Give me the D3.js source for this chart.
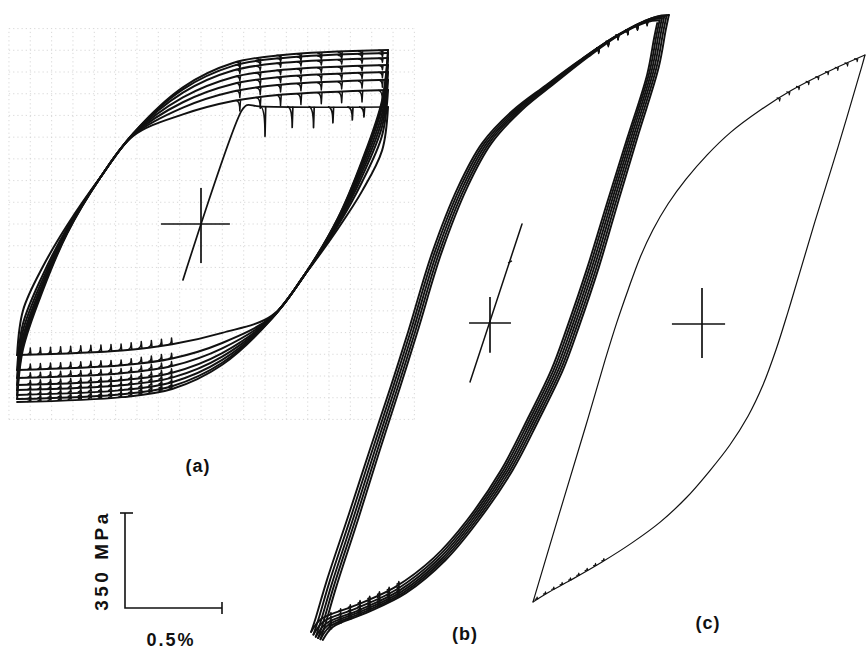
<!DOCTYPE html>
<html>
<head>
<meta charset="utf-8">
<script src="https://cdn.jsdelivr.net/npm/d3@7"></script>
<style>
  html, body { margin: 0; padding: 0; background: #fff; }
  svg { display: block; }
  text { font-family: "Liberation Sans", Arial, Helvetica, sans-serif; font-weight: bold; fill: #111; }
</style>
</head>
<body>
<svg id="chart" width="866" height="651"></svg>
<script>
// ------------------------------------------------------------------
// Data: stress-strain hysteresis loops (strain in %, stress in MPa)
// ------------------------------------------------------------------
const panelLabels = ["(a)", "(b)", "(c)"];
const barStress = 350;            // MPa
const barStrain = 0.5;            // %
const barLabels = ["350 MPa", "0.5%"];

// (a) outermost loop, rising branch, as fractions of strain range / stress range
const aShapeU = [0, 0.016, 0.070, 0.135, 0.224, 0.313, 0.447, 0.582, 0.717, 1];
const aShapeV = [0, 0.143, 0.314, 0.477, 0.637, 0.763, 0.894, 0.963, 0.986, 1];
const aStrainLimits = [-0.948, 0.964];
const aPeaks   = [431, 494, 531, 560, 586, 612, 630, 641];          // tension plateaus
const aValleys = [-483, -538, -567, -593, -612, -630, -645, -656];  // compression plateaus
const aDropT = [0, 40, 26, 20, 17, 15, 13, 12];    // serration depth, tension (MPa)
const aDropC = [24, 20, 17, 15, 14, 13, 12, 11];   // serration depth, compression (MPa)
// first loading: elastic line, then serrated yield plateau
const aFirstStrain = [-0.093, 0.21, 0.237, 0.30, 0.964];
const aFirstStress = [-206, 418, 438, 433, 431];
const aFirstDropStrain = [0.33, 0.47, 0.58, 0.68, 0.78, 0.84];
const aFirstDropDepth  = [110, 77, 77, 59, 48, 37];
// graph-paper rulings under (a)
const aGridStrain = [-0.99, -0.88, -0.77, -0.66, -0.55, -0.44, -0.33, -0.22, -0.11, 0,
                     0.11, 0.22, 0.33, 0.44, 0.55, 0.66, 0.77, 0.88, 0.99, 1.10];
const aGridStress = [-720, -640, -560, -480, -400, -320, -240, -160, -80, 0,
                     80, 160, 240, 320, 400, 480, 560, 640, 720];
const aCross = { strain: [-0.206, 0.149], stress: [-144, 133] };

// (b) outermost loop branches (fractions), cycle tips
const bRiseU = [0, 0.014, 0.046, 0.108, 0.168, 0.229, 0.280, 0.347, 0.422, 0.491, 0.578, 0.673, 0.769, 0.867, 0.962, 1];
const bRiseV = [0, 0.024, 0.085, 0.192, 0.299, 0.405, 0.496, 0.619, 0.725, 0.795, 0.848, 0.891, 0.933, 0.971, 0.997, 1];
const bFallU = [1, 0.991, 0.971, 0.913, 0.855, 0.798, 0.740, 0.694, 0.624, 0.549, 0.451, 0.355, 0.240, 0.124, 0.029, 0];
const bFallV = [1, 0.976, 0.917, 0.811, 0.704, 0.597, 0.501, 0.432, 0.352, 0.272, 0.192, 0.128, 0.075, 0.043, 0.021, 0];
const bStrainLo = [-0.922, -0.910, -0.898, -0.886, -0.874, -0.862];
const bStrainHi = [0.862, 0.874, 0.886, 0.898, 0.910, 0.922];
const bPeaks   = [1105, 1115, 1122, 1128, 1132, 1135];
const bValleys = [-1138, -1148, -1156, -1161, -1165, -1168];
const bFirstStrain = [-0.103, 0.165];
const bFirstStress = [-217, 365];
const bNick = [0.093, 221];
const bCross = { strain: [-0.108, 0.108], stress: [-110, 96] };

// (c) single loop
const cRiseU = [0, 0.081, 0.157, 0.217, 0.253, 0.286, 0.322, 0.361, 0.407, 0.461, 0.524, 0.596, 0.684, 0.780, 0.886, 1];
const cRiseV = [0, 0.165, 0.318, 0.442, 0.512, 0.570, 0.629, 0.680, 0.728, 0.773, 0.817, 0.859, 0.899, 0.936, 0.969, 1];
const cFallU = [1, 0.991, 0.919, 0.849, 0.804, 0.768, 0.732, 0.693, 0.648, 0.593, 0.530, 0.461, 0.383, 0.298, 0.208, 0.114, 0.042, 0];
const cFallV = [1, 0.980, 0.832, 0.695, 0.603, 0.530, 0.461, 0.397, 0.340, 0.287, 0.238, 0.190, 0.146, 0.108, 0.073, 0.040, 0.016, 0];
const cStrainLimits = [-0.871, 0.840];
const cStressLimits = [-1024, 991];
const cCross = { strain: [-0.155, 0.119], stress: [-125, 133] };

// ------------------------------------------------------------------
// Layout
// ------------------------------------------------------------------
const pxPerStrain = 194;          // px per 1 % strain
const pxPerStress = 95 / 350;     // px per MPa
const origins = { a: [201, 224], b: [490, 323], c: [702, 324] };

const svg = d3.select("#chart");

function scalesAt(o) {
  return {
    x: d3.scaleLinear().domain([0, 1]).range([o[0], o[0] + pxPerStrain]),
    y: d3.scaleLinear().domain([0, 1000]).range([o[1], o[1] - 1000 * pxPerStress])
  };
}

function smoothStep(p, p0, p1) {
  const t = Math.max(0, Math.min(1, (p - p0) / (p1 - p0)));
  return t * t * (3 - 2 * t);
}

// One branch of a cycle: the outer-loop shape, with its start plateau moved to
// sStart (fading out along the branch) and its end plateau moved to sEnd.
function branch(U, V, oLo, oHi, eLo, eHi, sStart, sEnd, rising, fade) {
  return U.map((u, i) => {
    const q = rising ? V[i] : 1 - V[i];
    const wS = 1 - smoothStep(q, 0, fade[0]);
    const wE = smoothStep(q, fade[1], 1);
    const base = oLo + V[i] * (oHi - oLo);
    const shift = rising
      ? (sStart - oLo) * wS + (sEnd - oHi) * wE
      : (sStart - oHi) * wS + (sEnd - oLo) * wE;
    return [eLo + u * (eHi - eLo), base + shift];
  });
}

function panelTools(g, sc, width) {
  const line = d3.line().x(d => sc.x(d[0])).y(d => sc.y(d[1])).curve(d3.curveCatmullRom.alpha(0.5));
  return {
    path(points, w) {
      g.append("path").attr("d", line(points)).attr("fill", "none")
        .attr("stroke", "#111").attr("stroke-width", w || width)
        .attr("stroke-linejoin", "round").attr("stroke-linecap", "round");
    },
    // serration teeth on a plateau (depth > 0 drops the stress)
    teeth(points, strains, depths, hook, w) {
      const sorted = points.slice().sort((p, q) => p[0] - q[0]);
      const at = d3.scaleLinear().domain(sorted.map(d => d[0])).range(sorted.map(d => d[1]));
      strains.forEach((e, i) => {
        const d = Array.isArray(depths) ? depths[i] : depths;
        const x = sc.x(e), y = sc.y(at(e)), y2 = sc.y(at(e) - d);
        g.append("path")
          .attr("d", `M${x - hook},${y} Q${x},${y} ${x},${y2} L${x + 0.7},${y}`)
          .attr("fill", "none").attr("stroke", "#111").attr("stroke-width", w || width)
          .attr("stroke-linejoin", "round");
      });
    },
    cross(c) {
      g.append("line").attr("x1", sc.x(c.strain[0])).attr("x2", sc.x(c.strain[1]))
        .attr("y1", sc.y(0)).attr("y2", sc.y(0)).attr("stroke", "#111").attr("stroke-width", 1.7);
      g.append("line").attr("x1", sc.x(0)).attr("x2", sc.x(0))
        .attr("y1", sc.y(c.stress[0])).attr("y2", sc.y(c.stress[1])).attr("stroke", "#111").attr("stroke-width", 1.7);
    }
  };
}

// ------------------------------------------------------------------
// (a) graph paper and cyclic loops with serrated plateaus
// ------------------------------------------------------------------
{
  const sc = scalesAt(origins.a);
  const g = svg.append("g");
  const grid = g.append("g").attr("stroke", "#888").attr("stroke-width", 0.9)
    .attr("stroke-dasharray", "1.2,3").attr("opacity", 0.35);
  const sx = d3.extent(aGridStrain), sy = d3.extent(aGridStress);
  aGridStrain.forEach(e => grid.append("line").attr("x1", sc.x(e)).attr("x2", sc.x(e))
    .attr("y1", sc.y(sy[0])).attr("y2", sc.y(sy[1])));
  aGridStress.forEach(s => grid.append("line").attr("y1", sc.y(s)).attr("y2", sc.y(s))
    .attr("x1", sc.x(sx[0])).attr("x2", sc.x(sx[1])));

  const P = panelTools(g, sc, 2.0);
  const [eLo, eHi] = aStrainLimits;
  const oLo = aValleys[aValleys.length - 1], oHi = aPeaks[aPeaks.length - 1];
  const fallU = aShapeU.map(u => 1 - u), fallV = aShapeV.map(v => 1 - v);
  const fade = [0.66, 0.72];
  const topTeeth = d3.range(0.20, 0.94, 0.105);
  const botTeeth = d3.range(-0.88, -0.14, 0.052);

  // first loading
  const first = aFirstStrain.map((e, i) => [e, aFirstStress[i]]);
  P.path(first, 1.7);
  P.teeth(first.slice(2), aFirstDropStrain, aFirstDropDepth, 5, 1.7);

  aPeaks.forEach((pk, k) => {
    const fall = branch(fallU, fallV, oLo, oHi, eLo, eHi, pk, aValleys[k], false, fade);
    P.path(fall);
    P.teeth(fall, botTeeth, -aDropC[k], 3, 1.5);
    if (k + 1 < aPeaks.length) {
      const rise = branch(aShapeU, aShapeV, oLo, oHi, eLo, eHi, aValleys[k], aPeaks[k + 1], true, fade);
      P.path(rise);
      P.teeth(rise, topTeeth, aDropT[k + 1], 4, 1.5);
    }
  });
  P.cross(aCross);
}

// ------------------------------------------------------------------
// (b) narrow loops
// ------------------------------------------------------------------
{
  const sc = scalesAt(origins.b);
  const g = svg.append("g");
  const P = panelTools(g, sc, 1.9);
  const oLo = bValleys[bValleys.length - 1], oHi = bPeaks[bPeaks.length - 1];
  const fade = [0.5, 0.8];
  const topTeeth = d3.range(0.56, 0.86, 0.05);
  const botTeeth = d3.range(-0.82, -0.45, 0.05);
  bPeaks.forEach((pk, k) => {
    const fall = branch(bFallU, bFallV, oLo, oHi, bStrainLo[k], bStrainHi[k], pk, bValleys[k], false, fade);
    P.path(fall);
    P.teeth(fall, botTeeth, -10, 2.5, 1.4);
    if (k + 1 < bPeaks.length) {
      const rise = branch(bRiseU, bRiseV, oLo, oHi, bStrainLo[k], bStrainHi[k + 1], bValleys[k], bPeaks[k + 1], true, fade);
      P.path(rise);
      P.teeth(rise, topTeeth, 14, 2.5, 1.4);
    }
  });
  P.path(bFirstStrain.map((e, i) => [e, bFirstStress[i]]), 1.5);
  g.append("line").attr("x1", sc.x(bNick[0])).attr("x2", sc.x(bNick[0] + 0.02))
    .attr("y1", sc.y(bNick[1])).attr("y2", sc.y(bNick[1] + 8)).attr("stroke", "#111").attr("stroke-width", 1.3);
  P.cross(bCross);
}

// ------------------------------------------------------------------
// (c) single loop
// ------------------------------------------------------------------
{
  const sc = scalesAt(origins.c);
  const g = svg.append("g");
  const P = panelTools(g, sc, 1.2);
  const [eLo, eHi] = cStrainLimits, [sLo, sHi] = cStressLimits;
  const rise = cRiseU.map((u, i) => [eLo + u * (eHi - eLo), sLo + cRiseV[i] * (sHi - sLo)]);
  const fall = cFallU.map((u, i) => [eLo + u * (eHi - eLo), sLo + cFallV[i] * (sHi - sLo)]);
  P.path(rise);
  P.path(fall);
  P.teeth(rise, d3.range(0.40, 0.82, 0.05), 12, 3, 1.1);
  P.teeth(fall, d3.range(-0.85, -0.47, 0.043), -9, 2.5, 1.1);
  P.cross(cCross);
}

// ------------------------------------------------------------------
// Scale bar and labels
// ------------------------------------------------------------------
{
  const bx = d3.scaleLinear().domain([0, barStrain]).range([125, 125 + barStrain * pxPerStrain]);
  const by = d3.scaleLinear().domain([0, barStress]).range([608, 608 - barStress * pxPerStress]);
  const g = svg.append("g").attr("stroke", "#111").attr("stroke-width", 1.6).attr("fill", "none");
  g.append("path").attr("d", `M${bx(0)},${by(barStress)} L${bx(0)},${by(0)} L${bx(barStrain)},${by(0)}`);
  g.append("line").attr("x1", bx(0) - 5).attr("x2", bx(0) + 8).attr("y1", by(barStress)).attr("y2", by(barStress));
  g.append("line").attr("x1", bx(barStrain)).attr("x2", bx(barStrain)).attr("y1", by(0) - 6).attr("y2", by(0) + 6);

  svg.append("text").attr("transform", `translate(108,${by(barStress / 2)}) rotate(-90)`)
    .attr("text-anchor", "middle").attr("font-size", 19).attr("letter-spacing", 3.5).text(barLabels[0]);
  svg.append("text").attr("x", 171).attr("y", 646).attr("text-anchor", "middle")
    .attr("font-size", 18).attr("letter-spacing", 2).text(barLabels[1]);

  const labelPos = [[198, 472], [465, 640], [708, 629]];
  panelLabels.forEach((t, i) => svg.append("text").attr("x", labelPos[i][0]).attr("y", labelPos[i][1])
    .attr("text-anchor", "middle").attr("font-size", 18).attr("letter-spacing", 1).text(t));
}
</script>
</body>
</html>
